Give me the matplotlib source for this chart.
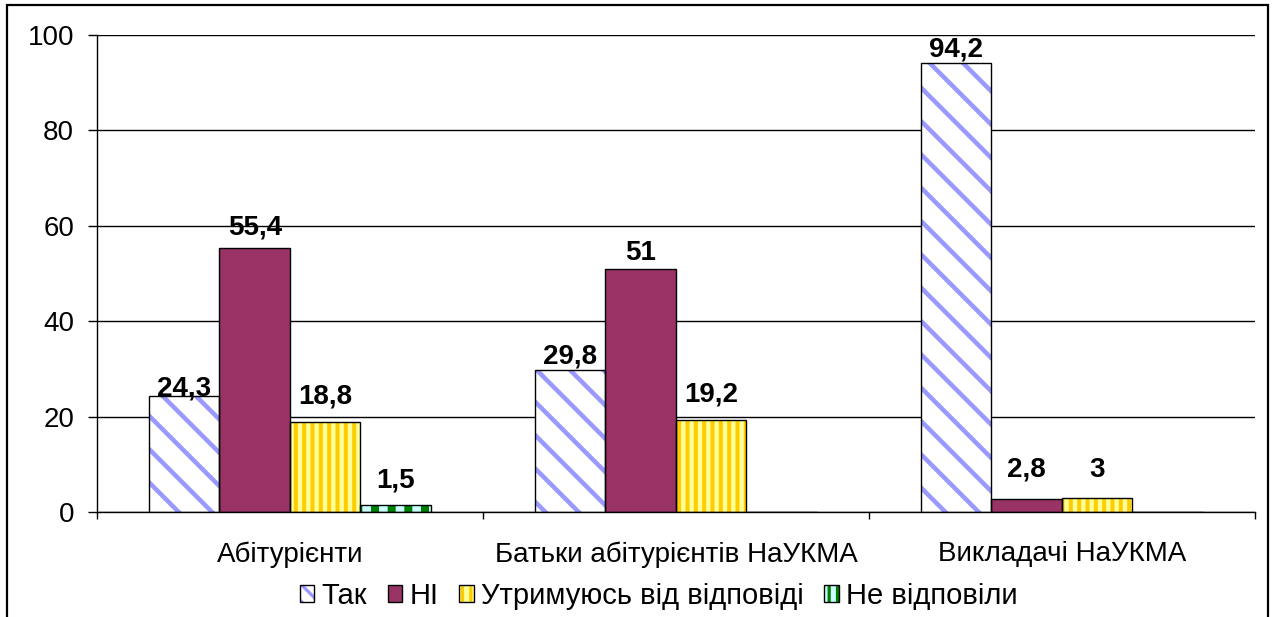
import matplotlib
matplotlib.use("Agg")
import matplotlib.pyplot as plt
import matplotlib.patches as mpatches
import numpy as np

plt.rcParams['font.family'] = ['Liberation Sans', 'DejaVu Sans']

# data
categories = ['Абітурієнти', 'Батьки абітурієнтів НаУКМА', 'Викладачі НаУКМА']
series_names = ['Так', 'НІ', 'Утримуюсь від відповіді', 'Не відповіли']
tak = [24.3, 29.8, 94.2]
ni = [55.4, 51, 2.8]
utrymuyus = [18.8, 19.2, 3]
ne_vidpovily = [1.5, None, None]
y_ticks = [0, 20, 40, 60, 80, 100]

# fill colour, hatch, hatch colour, hatch width (px)
styles = [
    ('white', '\\', '#9999FF', 4.5),
    ('#993366', '', '#993366', 1.0),
    ('#FFFF99', '||', '#FFCC00', 4.0),
    ('#CCFFFF', '|', '#008000', 8.0),
]
# denser hatches for the small legend keys so a stripe always shows
legend_hatches = ['\\\\', '', '||', '||']
# gap between bar top and label baseline (px), labels were hand-placed in the original
label_gaps = [
    [1, 6, 6],
    [13, 9, 22],
    [19, 19, 21],
    [17, 0, 0],
]

DPI = 100
fig = plt.figure(figsize=(12.74, 6.17), dpi=DPI)
ax = fig.add_axes([0.0761, 0.1702, 0.985 - 0.0761, 0.9433 - 0.1702])


def px2pt(px):
    return px * 72.0 / DPI


x = np.arange(len(categories))
width = 0.1826
all_series = [tak, ni, utrymuyus, ne_vidpovily]

for i, (vals, (fc, hatch, hc, hlw)) in enumerate(zip(all_series, styles)):
    h = [v if v is not None else 0 for v in vals]
    pos = x + (i - 1.5) * width
    plt.rcParams['hatch.linewidth'] = px2pt(hlw)
    under = ax.bar(pos, h, width, color=fc, edgecolor=hc, hatch=hatch, linewidth=0, zorder=2)
    for p in under:
        if hasattr(p, 'set_hatch_linewidth'):
            p.set_hatch_linewidth(px2pt(hlw))
    ax.bar(pos, h, width, facecolor='none', edgecolor='black', linewidth=1.0, zorder=3)
    for j, (xp, v) in enumerate(zip(pos, vals)):
        if v is None:
            continue
        ax.annotate(f"{v:g}".replace('.', ','), (xp, v), xytext=(0, px2pt(label_gaps[i][j])),
                    textcoords='offset points', ha='center', va='baseline',
                    fontsize=20, fontweight='bold', zorder=4)

ax.set_xlim(-0.5, len(categories) - 0.5)
ax.set_ylim(0, 100)
ax.set_yticks(y_ticks)
ax.yaxis.grid(True, color='black', linewidth=1.0, zorder=0)
ax.set_axisbelow(True)
ax.tick_params(axis='y', labelsize=20, length=6.5, width=1.0, pad=10, direction='out')

ax.set_xticks(x)
ax.set_xticklabels(categories)
ax.set_xticks(np.arange(len(categories) + 1) - 0.5, minor=True)
ax.tick_params(axis='x', which='major', length=0, labelsize=20, pad=21)
ax.tick_params(axis='x', which='minor', length=5, width=1.0, direction='out')

for s in ['top', 'right']:
    ax.spines[s].set_visible(False)
for s in ['left', 'bottom']:
    ax.spines[s].set_color('black')
    ax.spines[s].set_linewidth(1.0)

# legend: hatched patch under a black outline so the hatch keeps its colour
handles = []
for name, lh, (fc, hatch, hc, hlw) in zip(series_names, legend_hatches, styles):
    lw = px2pt(min(hlw, 4.0) * 0.8)
    plt.rcParams['hatch.linewidth'] = lw
    inner = mpatches.Patch(facecolor=fc, edgecolor=hc, hatch=lh, linewidth=0)
    if hasattr(inner, 'set_hatch_linewidth'):
        inner.set_hatch_linewidth(lw)
    outline = mpatches.Patch(facecolor='none', edgecolor='black', linewidth=1.0)
    handles.append((inner, outline))
fig.legend(handles=handles, labels=series_names, loc='center', bbox_to_anchor=(0.517, 0.034), ncol=4,
           frameon=False, fontsize=21, handlelength=0.5, handleheight=0.5, handletextpad=0.25,
           columnspacing=0.7, borderpad=0)

# outer chart border
border = mpatches.Rectangle((7 / 1274, -0.05), (1268 - 7) / 1274, 1 - 5 / 617 + 0.05,
                            transform=fig.transFigure, fill=False, edgecolor='black', linewidth=1.6,
                            clip_on=False)
fig.patches.append(border)

fig.savefig('out.png', dpi=DPI)
